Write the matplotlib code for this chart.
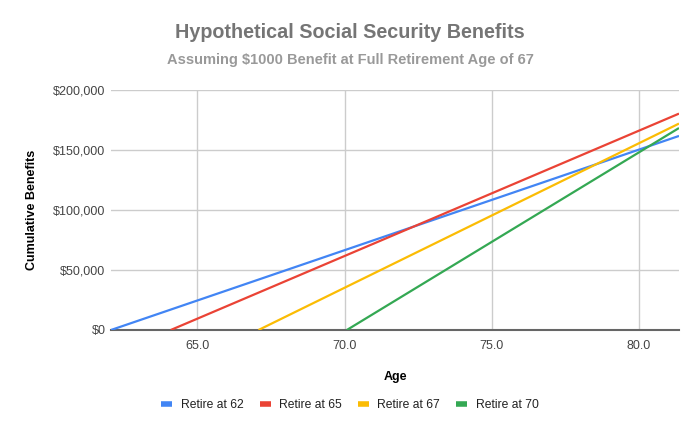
import matplotlib
matplotlib.use("Agg")
import matplotlib.pyplot as plt
from matplotlib.ticker import FuncFormatter

plt.rcParams["font.family"] = ["Liberation Sans", "DejaVu Sans"]

# start and end points of each straight line
labels = ["Retire at 62", "Retire at 65", "Retire at 67", "Retire at 70"]
ages = [
    [62.07, 81.36],
    [64.1, 81.36],
    [67.08, 81.36],
    [70.08, 81.36],
]
benefits = [
    [0, 161700],
    [0, 180300],
    [0, 172000],
    [0, 168300],
]
colors = ["#4285F4", "#EA4335", "#FBBC04", "#34A853"]

fig = plt.figure(figsize=(7, 4.33), dpi=100)
ax = fig.add_axes([0.1586, 0.2379, 0.8114, 0.5543])

for x, y, c, lab in zip(ages, benefits, colors, labels):
    ax.plot(x, y, color=c, lw=1.6, label=lab, solid_capstyle="butt")

ax.set_xlim(62.07, 81.36)
ax.set_ylim(0, 200000)
ax.set_xticks([65, 70, 75, 80])
ax.set_yticks([0, 50000, 100000, 150000, 200000])
ax.xaxis.set_major_formatter(FuncFormatter(lambda v, p: f"{v:.1f}"))
ax.yaxis.set_major_formatter(FuncFormatter(lambda v, p: f"${v:,.0f}"))

ax.grid(True, color="#cccccc", lw=1)
ax.set_axisbelow(True)
for s in ["top", "right", "left"]:
    ax.spines[s].set_visible(False)
ax.spines["bottom"].set_color("#666666")
ax.spines["bottom"].set_linewidth(1.5)
ax.spines["bottom"].set_zorder(1)
ax.tick_params(length=0, labelsize=9, colors="#444444")
ax.tick_params(axis="y", pad=4)
ax.tick_params(axis="x", pad=7)

ax.set_xlabel("Age", fontsize=9, fontweight="bold", labelpad=14)
ax.set_ylabel("Cumulative Benefits", fontsize=9, fontweight="bold", labelpad=11)

fig.text(0.5, 1 - 33 / 433, "Hypothetical Social Security Benefits",
         ha="center", va="center", fontsize=14.2, fontweight="bold", color="#757575")
fig.text(0.5, 1 - 60 / 433, "Assuming $1000 Benefit at Full Retirement Age of 67",
         ha="center", va="center", fontsize=10.5, fontweight="bold", color="#999999")

fig.legend(loc="center", bbox_to_anchor=(0.5, 1 - 405 / 433), ncol=4, frameon=False,
           fontsize=8.7, handlelength=0.9, handleheight=0.5, columnspacing=1.35,
           handletextpad=0.7, labelcolor="#222222")
for h in fig.legends[0].legend_handles:
    h.set_linewidth(4)

fig.savefig("out.png", dpi=100)
